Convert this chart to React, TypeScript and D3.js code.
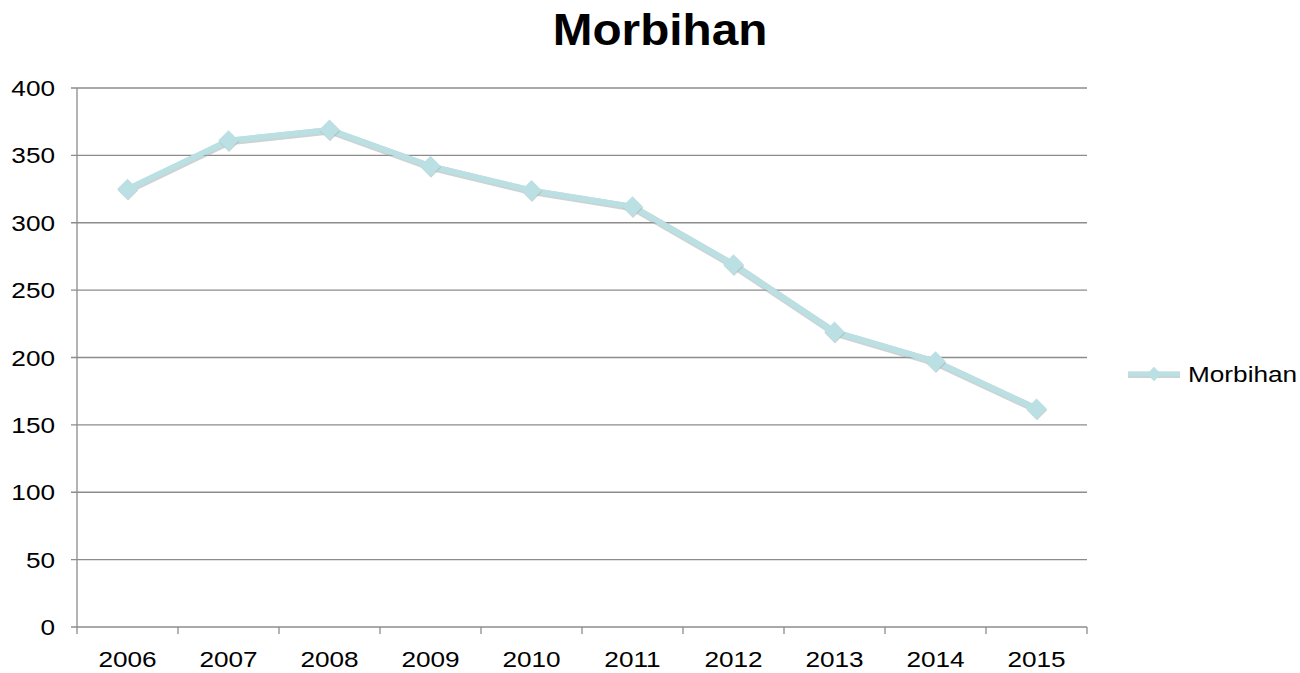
import { useRef, useEffect } from "react";
import * as d3 from "d3";

const years = ["2006", "2007", "2008", "2009", "2010", "2011", "2012", "2013", "2014", "2015"];
const values = [325, 361, 369, 342, 324, 312, 269, 219, 197, 162];
const yTicks = [0, 50, 100, 150, 200, 250, 300, 350, 400];
const seriesName = "Morbihan";

const W = 1300;
const H = 673;
const LINE = "#bae0e3";
const SHADOW = "#9fb0b1";
const GRID = "#8c8c8c";
const SX = 1.19; // labels in the picture are stretched sideways

export default function App() {
  const svgRef = useRef<SVGSVGElement>(null);

  useEffect(() => {
    if (!svgRef.current) return;
    const svg = d3.select(svgRef.current);
    svg.selectAll("*").remove();

    const margin = { top: 88, right: 213, bottom: 46, left: 77 };
    const w = W - margin.left - margin.right;
    const h = H - margin.top - margin.bottom;
    const font = "'Liberation Sans', Arial, sans-serif";

    svg.append("text")
      .attr("transform", "translate(660,45) scale(1.06,1)")
      .attr("text-anchor", "middle")
      .attr("font-family", font)
      .attr("font-weight", "bold")
      .attr("font-size", 45)
      .attr("fill", "#000")
      .text(seriesName);

    const g = svg.append("g").attr("transform", `translate(${margin.left},${margin.top})`);

    const x = d3.scaleBand().domain(years).range([0, w]);
    const y = d3.scaleLinear().domain([0, 400]).range([h, 0]);

    // Grid
    g.selectAll("line.grid")
      .data(yTicks)
      .join("line")
      .attr("class", "grid")
      .attr("x1", -6).attr("x2", w)
      .attr("y1", (d) => y(d)).attr("y2", (d) => y(d))
      .attr("stroke", GRID).attr("stroke-width", 1.3);

    // Axes lines
    g.append("line").attr("x1", 0).attr("x2", 0).attr("y1", 0).attr("y2", h)
      .attr("stroke", GRID).attr("stroke-width", 1.3);
    g.selectAll("line.sep")
      .data(d3.range(years.length + 1))
      .join("line")
      .attr("class", "sep")
      .attr("x1", (i) => i * x.bandwidth()).attr("x2", (i) => i * x.bandwidth())
      .attr("y1", h).attr("y2", h + 7)
      .attr("stroke", GRID).attr("stroke-width", 1.3);

    // Y labels
    g.selectAll("text.yl")
      .data(yTicks)
      .join("text")
      .attr("class", "yl")
      .attr("transform", (d) => `translate(-22,${y(d) + 8}) scale(${SX},1)`)
      .attr("text-anchor", "end")
      .attr("font-family", font).attr("font-size", 22).attr("fill", "#000")
      .text((d) => d);

    // X labels
    g.selectAll("text.xl")
      .data(years)
      .join("text")
      .attr("class", "xl")
      .attr("transform", (d) => `translate(${x(d)! + x.bandwidth() / 2},${h + 40}) scale(${SX},1)`)
      .attr("text-anchor", "middle")
      .attr("font-family", font).attr("font-size", 22).attr("fill", "#000")
      .text((d) => d);

    const pts = years.map((yr, i) => [x(yr)! + x.bandwidth() / 2, y(values[i])] as [number, number]);
    const line = d3.line();

    // shadow + line
    g.append("path")
      .attr("d", line(pts.map(([a, b]) => [a + 0.5, b + 1])))
      .attr("fill", "none").attr("stroke", SHADOW).attr("stroke-width", 7.5).attr("opacity", 0.55);
    g.append("path")
      .attr("d", line(pts))
      .attr("fill", "none").attr("stroke", LINE).attr("stroke-width", 5.5);

    const diamond = d3.symbol().type(d3.symbolDiamond2).size(270);
    g.selectAll("path.sh")
      .data(pts)
      .join("path")
      .attr("class", "sh")
      .attr("d", diamond)
      .attr("transform", ([a, b]) => `translate(${a + 0.5},${b + 1.2})`)
      .attr("fill", SHADOW).attr("opacity", 0.55);
    g.selectAll("path.mk")
      .data(pts)
      .join("path")
      .attr("class", "mk")
      .attr("d", diamond)
      .attr("transform", ([a, b]) => `translate(${a},${b})`)
      .attr("fill", LINE);

    // Legend
    const lg = svg.append("g").attr("transform", "translate(1128,374)");
    lg.append("line").attr("x1", 0).attr("x2", 52).attr("y1", 0.8).attr("y2", 0.8)
      .attr("stroke", SHADOW).attr("stroke-width", 6.5).attr("opacity", 0.55);
    lg.append("line").attr("x1", 0).attr("x2", 52).attr("y1", 0).attr("y2", 0)
      .attr("stroke", LINE).attr("stroke-width", 4.5);
    lg.append("path").attr("d", d3.symbol().type(d3.symbolDiamond2).size(130))
      .attr("transform", "translate(26,0)").attr("fill", LINE);
    lg.append("text")
      .attr("transform", `translate(60,8) scale(${SX},1)`)
      .attr("font-family", font).attr("font-size", 22).attr("fill", "#000")
      .text(seriesName);
  }, []);

  return <svg ref={svgRef} width={W} height={H} style={{ position: "absolute", left: 0, top: 0, background: "#fff" }} />;
}
